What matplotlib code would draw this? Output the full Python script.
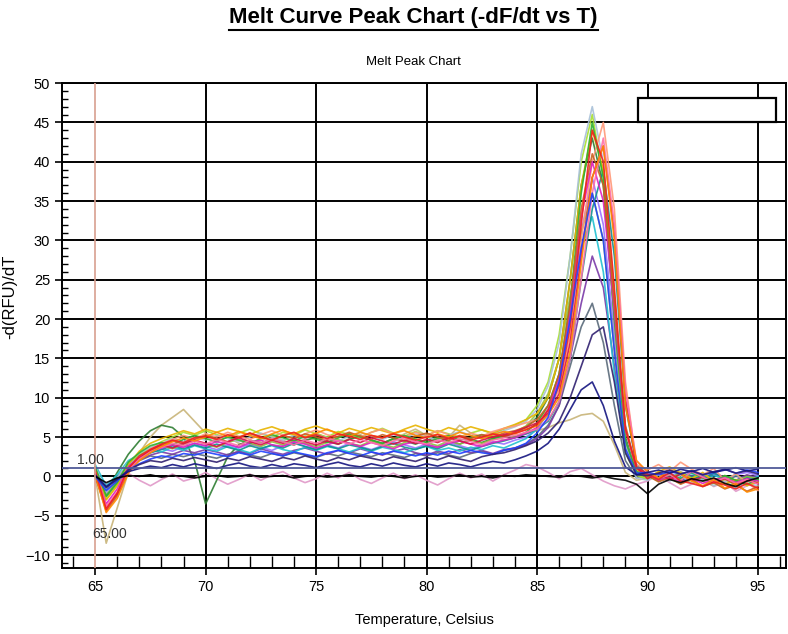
import matplotlib
matplotlib.use("Agg")
import matplotlib.pyplot as plt
from matplotlib.lines import Line2D
from matplotlib.patches import Rectangle

plt.rcParams['font.family'] = ['Liberation Sans Narrow', 'Liberation Sans', 'DejaVu Sans']

# temperature grid of the melt readings (deg C)
temps = [65.0, 65.5, 66.0, 66.5, 67.0, 67.5, 68.0, 68.5, 69.0, 69.5,
         70.0, 70.5, 71.0, 71.5, 72.0, 72.5, 73.0, 73.5, 74.0, 74.5,
         75.0, 75.5, 76.0, 76.5, 77.0, 77.5, 78.0, 78.5, 79.0, 79.5,
         80.0, 80.5, 81.0, 81.5, 82.0, 82.5, 83.0, 83.5, 84.0, 84.5,
         85.0, 85.5, 86.0, 86.5, 87.0, 87.5, 88.0, 88.5, 89.0, 89.5,
         90.0, 90.5, 91.0, 91.5, 92.0, 92.5, 93.0, 93.5, 94.0, 94.5, 95.0]

# -d(RFU)/dT per well
well_red = [0.8,-4.2,-2.1,1.0,2.6,3.4,4.1,4.6,4.3,4.9,
            5.1,4.7,5.3,4.9,5.5,5.0,4.6,5.2,5.6,4.9,
            5.3,4.8,5.4,5.1,4.7,5.2,4.9,5.4,5.0,4.6,
            5.0,5.3,4.8,5.1,4.6,5.0,5.4,5.1,5.5,5.9,
            6.6,8.4,11.5,19.0,32.0,44.0,40.0,24.0,6.0,1.2,
            0.3,-0.4,0.5,-0.6,-0.9,-1.3,-0.7,-1.1,-1.6,-0.9,-1.5]
well_orange = [0.2,-4.6,-2.8,0.4,2.0,3.0,3.8,4.4,4.9,4.5,
               5.0,5.6,5.1,5.7,5.2,4.8,5.4,5.9,5.3,5.0,
               5.5,6.0,5.4,5.1,5.6,5.2,4.9,5.5,5.8,5.2,
               4.9,5.4,5.0,5.6,5.2,4.8,5.3,5.7,5.4,6.0,
               6.4,7.8,10.0,16.0,27.0,38.0,42.0,30.0,9.0,2.0,
               0.6,-0.2,0.8,0.3,-0.6,-1.2,-0.4,-1.5,-0.9,-2.0,-1.6]
well_green = [1.2,-2.5,-0.8,1.8,3.0,3.9,4.3,4.0,4.7,5.2,
              4.8,4.4,5.0,4.6,4.2,4.8,5.3,4.9,4.5,5.1,
              4.7,4.3,4.9,5.4,5.0,4.6,4.2,4.8,5.2,4.7,
              4.3,4.8,5.2,4.6,4.9,5.3,4.8,5.2,5.0,5.6,
              6.8,9.0,13.0,22.0,36.0,45.0,38.0,20.0,4.5,0.6,
              0.1,-0.6,0.2,-0.3,0.5,-0.2,-0.8,0.1,-0.5,-1.0,-0.4]
well_blue = [0.0,-1.8,-0.6,0.8,1.6,2.2,2.6,2.4,2.9,2.7,
             3.1,2.8,2.5,3.0,2.7,3.2,2.9,2.6,3.1,2.8,
             2.5,3.0,3.3,2.9,2.6,3.1,2.8,3.2,2.9,2.6,
             3.0,2.7,3.2,2.9,3.3,3.0,2.8,3.3,3.6,4.2,
             5.5,7.5,12.0,20.0,29.0,36.0,30.0,16.0,3.5,0.4,
             0.5,0.2,0.6,0.3,0.7,0.2,0.5,0.9,0.4,0.8,0.5]
well_magenta = [0.4,-3.5,-1.6,1.2,2.4,3.2,3.6,4.0,3.7,4.2,
                3.9,4.4,4.1,3.7,4.3,4.6,4.0,3.8,4.4,4.1,
                3.6,4.0,4.5,4.2,3.8,4.3,3.9,3.5,4.1,4.4,
                4.0,3.7,4.2,4.5,4.1,3.8,4.3,4.6,4.9,5.5,
                6.2,8.5,12.5,21.0,33.0,40.0,35.0,21.0,6.0,1.0,
                0.2,-0.5,-0.1,-0.7,-0.3,-0.9,-0.4,-0.2,-0.8,-0.3,-0.6]
well_cyan = [1.5,-1.2,0.2,2.0,2.8,3.4,3.1,3.7,3.3,3.9,
             3.5,3.2,3.8,3.4,3.0,3.6,3.9,3.4,3.1,3.7,
             3.3,3.8,3.5,3.1,3.6,3.2,3.7,3.4,3.0,3.5,
             3.8,3.3,3.6,3.2,3.7,3.4,3.9,3.6,4.2,4.8,
             6.0,8.5,13.0,21.0,29.0,33.0,26.0,13.0,3.0,0.3,
             0.0,-0.4,0.3,-0.2,0.4,-0.5,0.1,-0.3,0.2,-0.6,0.0]
well_lime = [0.9,-2.9,-1.0,1.6,2.8,3.6,4.4,5.0,5.6,5.2,
             5.8,5.3,4.9,5.5,6.0,5.4,5.0,5.6,5.2,5.9,
             5.4,5.0,5.7,5.3,4.9,5.6,6.1,5.5,5.1,5.7,
             5.2,5.8,5.4,5.0,5.5,5.9,5.4,6.0,6.5,7.2,
             9.0,12.0,18.0,28.0,40.0,46.0,38.0,20.0,4.0,0.2,
             -0.3,0.4,-0.5,0.2,-0.6,-0.2,-0.9,-0.4,-1.1,-0.5,-0.8]
well_purple = [0.3,-1.9,-0.4,1.3,2.1,2.7,3.1,2.8,3.3,3.0,
               3.4,3.1,2.7,3.2,2.9,3.5,3.1,2.8,3.3,3.6,
               3.2,2.8,3.3,3.0,3.5,3.1,2.7,3.2,3.5,3.0,
               2.7,3.2,2.9,3.4,3.0,3.3,2.9,3.4,3.6,4.0,
               4.8,6.2,9.0,15.0,22.0,28.0,24.0,14.0,4.0,0.5,
               0.4,-0.2,0.3,-0.4,0.1,-0.3,0.4,-0.1,-0.5,0.2,-0.2]
well_pink = [0.6,-3.8,-2.0,0.8,2.2,3.1,3.7,4.2,3.9,4.5,
             4.1,4.7,4.3,3.9,4.6,4.2,4.8,4.4,4.0,4.6,
             4.2,4.8,4.5,4.1,4.7,4.3,3.9,4.5,4.9,4.4,
             4.1,4.6,4.3,4.8,4.4,4.0,4.6,4.9,5.2,5.6,
             6.0,7.2,9.5,15.0,25.0,36.0,43.0,32.0,11.0,2.0,
             0.4,-0.3,0.2,-0.5,0.6,-0.1,-0.7,-0.2,-0.9,-0.4,-1.0]
well_brown = [0.1,-4.4,-2.5,0.6,2.2,3.3,3.9,4.5,4.1,4.7,
              5.2,4.8,4.4,5.0,5.5,5.0,4.6,5.2,4.8,5.4,
              5.0,4.6,5.1,5.6,5.1,4.7,5.3,4.9,4.5,5.1,
              5.5,5.0,4.6,5.2,4.8,5.3,5.0,5.5,5.8,6.3,
              7.2,9.0,13.0,22.0,34.0,41.0,37.0,22.0,6.5,1.0,
              0.1,-0.7,-0.2,-1.0,-0.4,-1.3,-0.8,-1.6,-1.1,-1.9,-1.3]
well_navy = [0.2,-1.3,-0.3,0.6,1.0,1.3,1.1,1.5,1.2,1.6,
             1.3,1.0,1.4,1.7,1.3,1.1,1.5,1.2,1.6,1.4,
             1.1,1.5,1.8,1.4,1.2,1.6,1.3,1.7,1.4,1.2,
             1.6,1.3,1.7,1.5,1.2,1.6,1.9,1.7,2.1,2.6,
             3.2,4.2,6.0,8.5,11.0,12.0,9.0,4.5,1.2,0.2,
             0.5,0.8,0.4,0.9,0.6,1.0,0.5,0.8,1.1,0.7,0.9]
well_slate = [0.5,-1.5,0.0,1.4,2.0,2.6,2.3,2.8,2.5,2.9,
              2.6,2.3,2.8,3.1,2.7,2.4,2.9,2.6,3.0,2.7,
              2.4,2.9,2.6,3.1,2.8,2.5,3.0,2.7,2.4,2.9,
              2.6,3.0,2.7,2.4,2.9,3.2,2.8,3.3,3.6,4.1,
              5.0,6.5,9.0,14.0,19.0,22.0,17.0,9.0,2.0,-0.2,
              0.3,-0.3,0.2,-0.4,0.1,-0.2,0.3,-0.5,0.0,-0.3,0.2]
well_tan = [0.0,-8.5,-4.0,0.5,3.0,5.0,6.5,7.5,8.5,7.0,
            5.5,4.5,5.0,4.2,3.8,4.5,5.2,4.6,4.0,4.8,
            5.5,4.9,4.2,4.8,5.3,4.6,4.0,4.7,5.4,6.0,
            5.2,4.5,5.0,6.5,5.5,4.8,5.2,4.6,5.0,5.4,
            5.8,6.2,6.8,7.2,7.8,8.0,7.0,4.0,0.5,-0.5,
            -0.2,0.5,-0.3,0.6,-0.1,-0.6,-1.2,-0.5,-1.0,-0.4,-0.8]
well_darkgreen = [0.8,-2.0,0.5,2.8,4.5,5.8,6.5,6.2,5.0,2.0,
                  -3.5,-0.5,2.5,4.0,4.6,4.2,4.8,4.4,4.0,4.6,
                  4.9,4.4,4.1,4.7,5.1,4.6,4.2,4.8,4.5,4.1,
                  4.6,5.0,4.5,4.1,4.7,4.3,4.8,5.2,5.5,6.2,
                  7.5,10.0,15.0,25.0,37.0,43.0,37.0,20.0,5.0,0.4,
                  -0.1,0.5,-0.2,0.3,-0.4,0.2,-0.5,0.0,-0.6,-0.2,-0.4]
well_gold = [1.0,-3.0,-1.2,1.5,3.2,4.2,4.8,5.3,5.8,5.4,
             6.0,5.6,6.1,5.7,5.3,5.9,6.3,5.8,5.4,6.0,
             6.4,5.9,5.5,6.1,5.7,6.2,5.8,5.4,6.0,6.5,
             6.0,5.6,6.2,5.8,6.3,5.9,5.5,6.1,6.6,7.2,
             8.0,10.0,15.0,25.0,37.0,44.0,39.0,23.0,6.0,0.8,
             -0.2,0.6,1.2,0.4,-0.3,0.5,-0.6,-1.0,-0.4,-1.2,-0.7]
well_salmon = [0.4,-4.0,-2.4,0.7,2.3,3.5,4.1,4.7,5.2,4.8,
               5.4,5.0,5.6,5.1,4.7,5.3,5.8,5.2,4.8,5.4,
               5.9,5.3,4.9,5.5,5.0,5.6,6.0,5.4,5.0,5.6,
               5.2,5.8,5.3,4.9,5.5,5.1,5.7,6.1,6.4,6.8,
               7.2,8.5,11.0,18.0,30.0,40.0,45.0,34.0,12.0,1.5,
               0.8,1.5,0.6,1.8,0.9,0.2,1.0,-0.5,0.3,-0.8,-1.8]
well_violet = [0.9,-2.2,-0.5,1.5,2.4,3.0,3.5,3.2,3.8,4.2,
               3.8,3.4,4.0,3.6,4.1,3.7,3.3,3.9,4.3,3.8,
               3.5,4.0,3.6,4.2,3.8,3.4,3.9,4.4,4.0,3.6,
               4.1,3.7,4.3,3.9,3.5,4.0,4.4,4.1,4.6,5.0,
               6.0,8.0,12.0,20.0,31.0,38.0,32.0,18.0,4.5,0.6,
               0.3,-0.3,0.4,-0.2,0.6,0.0,0.3,-0.4,0.2,0.5,0.1]
well_skyblue = [1.3,-2.0,-0.2,1.8,2.9,3.7,4.2,4.8,4.4,5.0,
                4.6,5.2,4.8,4.4,5.0,5.5,5.0,4.6,5.2,4.8,
                5.3,4.9,4.5,5.1,5.6,5.1,4.7,5.3,4.9,5.4,
                5.0,4.6,5.2,5.7,5.2,4.8,5.4,5.8,6.3,7.0,
                8.5,11.5,17.0,28.0,41.0,47.0,40.0,22.0,4.0,-0.2,
                -0.5,0.2,-0.6,0.1,-0.9,-0.3,-1.2,-0.6,-1.5,-0.9,-1.2]
well_ntc_pink = [0.3,-1.0,-0.2,0.4,-0.5,-1.2,-0.4,0.3,-0.6,-0.2,
                 0.5,-0.3,-1.0,-0.4,0.3,-0.5,0.2,0.6,-0.2,-0.8,
                 -0.3,0.4,-0.2,0.5,-0.4,-0.9,-0.2,0.4,-0.3,0.2,
                 -0.5,-1.1,-0.3,0.4,-0.2,0.3,-0.6,0.2,0.8,1.5,
                 1.2,0.5,-0.3,0.6,1.0,0.2,-0.6,-1.2,-1.6,-1.0,
                 -0.6,0.2,-0.8,-1.6,-1.0,-0.4,-1.3,-0.7,-1.9,-1.2,-0.5]
well_ntc_black = [0.0,-0.8,-0.2,0.1,0.0,0.2,-0.1,0.1,0.0,-0.2,
                  0.0,0.1,-0.1,0.0,0.2,-0.1,0.0,0.1,-0.2,0.0,
                  0.1,-0.1,0.0,0.2,0.0,-0.1,0.1,0.0,-0.2,0.0,
                  0.1,-0.1,0.0,0.2,-0.1,0.0,-0.2,0.1,0.0,0.2,
                  0.1,0.0,-0.1,0.1,0.0,-0.2,0.0,-0.3,-0.5,-1.0,
                  -2.2,-1.0,-0.4,-0.8,-0.3,-0.6,-0.2,-0.9,-1.3,-0.6,-0.2]
well_teal = [0.7,-2.6,-0.9,1.2,2.3,3.0,3.4,3.9,3.5,4.0,
             3.6,4.1,3.7,3.3,3.9,3.5,4.0,3.6,4.2,3.8,
             3.4,3.9,3.5,4.0,3.7,3.3,3.8,4.2,3.7,3.4,
             3.9,3.5,4.1,3.7,3.3,3.8,4.2,4.5,4.9,5.4,
             6.0,7.0,9.5,15.0,25.0,34.0,39.0,28.0,9.0,1.5,
             0.2,-0.4,0.3,-0.6,0.0,-0.3,0.4,-0.2,-0.7,-0.1,-0.4]
well_olive = [1.1,-2.4,-0.6,1.7,2.7,3.3,3.9,3.5,4.1,4.5,
              4.1,3.7,4.3,4.7,4.2,3.8,4.4,4.0,4.6,4.2,
              3.8,4.3,4.7,4.2,3.9,4.5,4.1,3.7,4.3,4.8,
              4.3,3.9,4.5,4.1,4.6,4.2,4.7,5.0,5.6,6.4,
              8.0,10.5,15.0,23.0,31.0,36.0,30.0,16.0,3.0,0.1,
              -0.4,0.2,-0.3,0.5,-0.2,0.3,-0.5,0.1,-0.6,0.0,-0.3]
well_crimson = [0.1,-3.9,-2.2,0.9,2.3,3.4,4.0,3.6,4.2,4.6,
                4.2,3.8,4.4,4.9,4.4,4.0,4.6,4.2,4.8,4.4,
                4.0,4.5,4.1,4.7,4.3,4.9,4.5,4.1,4.6,4.2,
                4.7,4.3,4.9,4.5,4.1,4.6,5.0,5.3,5.7,6.2,
                6.8,8.0,10.5,17.0,28.0,38.0,42.0,31.0,10.0,1.2,
                -0.3,0.4,-0.4,0.3,-0.5,-0.1,-0.8,-0.3,-1.0,-0.5,-0.9]
well_indigo = [0.1,-1.4,-0.4,0.8,1.5,2.0,1.8,2.3,2.0,2.4,
               2.1,1.8,2.3,2.0,2.5,2.2,1.9,2.4,2.1,2.6,
               2.2,1.9,2.4,2.1,2.6,2.3,2.0,2.5,2.2,1.9,
               2.4,2.1,2.6,2.2,1.9,2.5,2.8,3.0,3.4,3.9,
               4.5,5.5,7.0,10.0,14.0,18.0,19.0,12.0,3.0,0.2,
               0.1,0.4,0.8,0.3,0.7,0.2,0.6,0.9,0.4,0.7,0.3]

wells = [well_ntc_pink, well_tan, well_darkgreen, well_slate, well_purple,
         well_violet, well_cyan, well_teal, well_olive, well_lime, well_skyblue,
         well_gold, well_salmon, well_green, well_magenta, well_brown,
         well_crimson, well_pink, well_orange, well_red, well_blue,
         well_indigo, well_navy, well_ntc_black]
colors = ['#e098c8', '#c8b478', '#2e7d32', '#5a6a7a', '#7a3aa8',
          '#9a70ff', '#20c0d0', '#109090', '#90c040', '#a8e030', '#a8c0d8',
          '#e8b400', '#ff9878', '#30b030', '#e020c0', '#c86020',
          '#d81048', '#ff70a8', '#ff8a00', '#f02020', '#2040ff',
          '#302070', '#141480', '#000000']

threshold = 1.00
start_temp = 65.00

fig = plt.figure(figsize=(7.88, 6.34), dpi=100)
ax = fig.add_axes([0.0787, 0.104, 0.9188, 0.765])

for vals, c in zip(wells, colors):
    ax.plot(temps, vals, color=c, lw=1.2, alpha=0.9)

ax.axhline(threshold, color='#505a98', lw=1.3, zorder=3)
ax.axvline(start_temp, color='#d8a090', lw=1.2, zorder=3)
ax.text(64.2, 2.1, '%.2f' % threshold, fontsize=10, va='center', ha='left', color='#333333')
ax.text(64.85, -7.3, '%.2f' % start_temp, fontsize=10, va='center', ha='left', color='#333333')

ax.set_xlim(63.5, 96.27)
ax.set_ylim(-11.66, 50)
ax.set_xticks([65, 70, 75, 80, 85, 90, 95])
ax.set_yticks([-10, -5, 0, 5, 10, 15, 20, 25, 30, 35, 40, 45, 50])
ax.set_xticks(range(64, 97), minor=True)
ax.set_yticks(range(-11, 50), minor=True)
ax.tick_params(axis='both', which='major', direction='out', length=5, width=1.2, labelsize=10.5, colors='black')
ax.tick_params(axis='x', which='minor', direction='in', length=9, width=1.0)
ax.tick_params(axis='y', which='minor', direction='in', length=4, width=1.0)
ax.grid(True, which='major', color='black', lw=1.4)
ax.get_xgridlines()[0].set_visible(False)
for s in ax.spines.values():
    s.set_linewidth(1.4)

# empty legend box top right
ax.add_patch(Rectangle((0.796, 0.92), 0.19, 0.049, transform=ax.transAxes,
                       facecolor='white', edgecolor='black', lw=1.6, zorder=5))

ax.set_xlabel('Temperature, Celsius', fontsize=10.5, labelpad=14)
ax.set_ylabel('-d(RFU)/dT', fontsize=12)
ax.yaxis.set_label_coords(-0.062, 0.56)

fig.text(0.525, 0.902, 'Melt Peak Chart', fontsize=9.5, ha='center', va='center')
title = fig.text(0.525, 0.972, 'Melt Curve Peak Chart (-dF/dt vs T)', fontsize=16,
                 fontweight='bold', ha='center', va='center')

# underline the title
fig.canvas.draw()
bb = title.get_window_extent()
fw, fh = fig.bbox.width, fig.bbox.height
uy = (bb.y0 - 2) / fh
fig.add_artist(Line2D([bb.x0 / fw, bb.x1 / fw], [uy, uy], color='black', lw=1.5))

fig.savefig('out.png', dpi=100)
